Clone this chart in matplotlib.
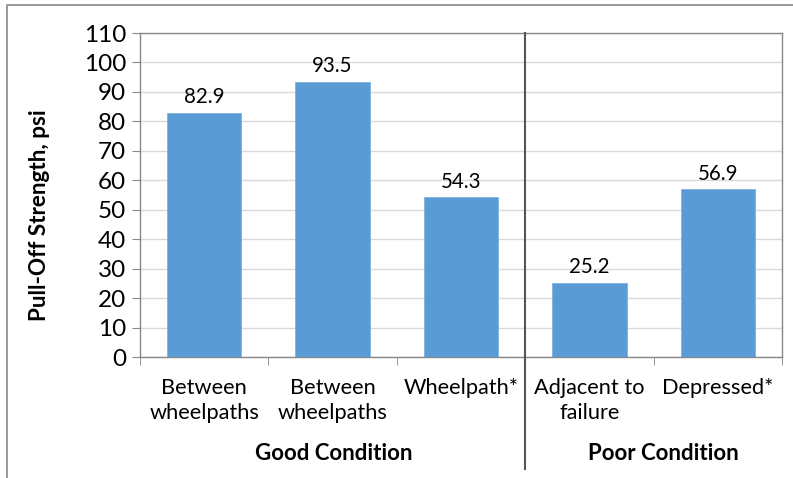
import matplotlib
matplotlib.use("Agg")
import matplotlib.pyplot as plt
from matplotlib.lines import Line2D

categories = ["Between\nwheelpaths", "Between\nwheelpaths", "Wheelpath*", "Adjacent to\nfailure", "Depressed*"]
values = [82.9, 93.5, 54.3, 25.2, 56.9]
groups = ["Good Condition", "Poor Condition"]
yticks = list(range(0, 111, 10))

plt.rcParams['font.family'] = ['Lato', 'DejaVu Sans']

W, H = 793, 478
fig = plt.figure(figsize=(W / 100, H / 100), dpi=100)
fig.patch.set_facecolor('white')

def px(x, y):
    return x / W, 1 - y / H

L, T, R, B = 140, 33, 782, 357
ax = fig.add_axes([L / W, 1 - B / H, (R - L) / W, (B - T) / H])

xs = list(range(len(values)))
ax.bar(xs, values, width=0.58, color='#5B9BD5', edgecolor='#7FB2E0', linewidth=0.6, zorder=3)
for x, v in zip(xs, values):
    ax.annotate(f"{v:.1f}", (x, v), xytext=(0, 4), textcoords='offset points',
                ha='center', va='bottom', fontsize=14.8, color='#000000')

ax.set_xlim(-0.5, len(values) - 0.5)
ax.set_ylim(0, 110)
ax.set_yticks(yticks)
ax.tick_params(axis='y', labelsize=17.5, length=6, color='#888888', pad=4, labelcolor='#000000')
ax.yaxis.grid(True, color='#D9D9D9', linewidth=1)
ax.set_axisbelow(True)

ax.set_xticks(xs)
ax.set_xticklabels(categories, fontsize=15.7, linespacing=1.35)
ax.tick_params(axis='x', which='major', length=0, pad=15)
ax.set_xticks([i - 0.5 for i in range(len(values) + 1)], minor=True)
ax.tick_params(axis='x', which='minor', length=6, color='#888888')

for s in ax.spines.values():
    s.set_color('#888888')
    s.set_linewidth(1)

# separator between groups
ax.plot([2.5, 2.5], [1.0, (B - 469) / (B - T)], transform=ax.get_xaxis_transform(),
        color='#555555', linewidth=1.5, clip_on=False, zorder=5)

fig.text(*px(40, 215), "Pull-Off Strength, psi", rotation=90, ha='center', va='center',
         fontsize=16.2, fontweight='bold')
fig.text(*px(334, 453), groups[0], ha='center', va='center', fontsize=16, fontweight='bold')
fig.text(*px(663, 453), groups[1], ha='center', va='center', fontsize=16, fontweight='bold')

# outer chart border (left and top visible)
x0, y0 = px(7, H)
x1, y1 = px(7, 5)
x2, y2 = px(W, 5)
fig.add_artist(Line2D([x0, x1, x2], [y0, y1, y2], color='#888888', linewidth=1.2))

fig.savefig("out.png", dpi=100)
